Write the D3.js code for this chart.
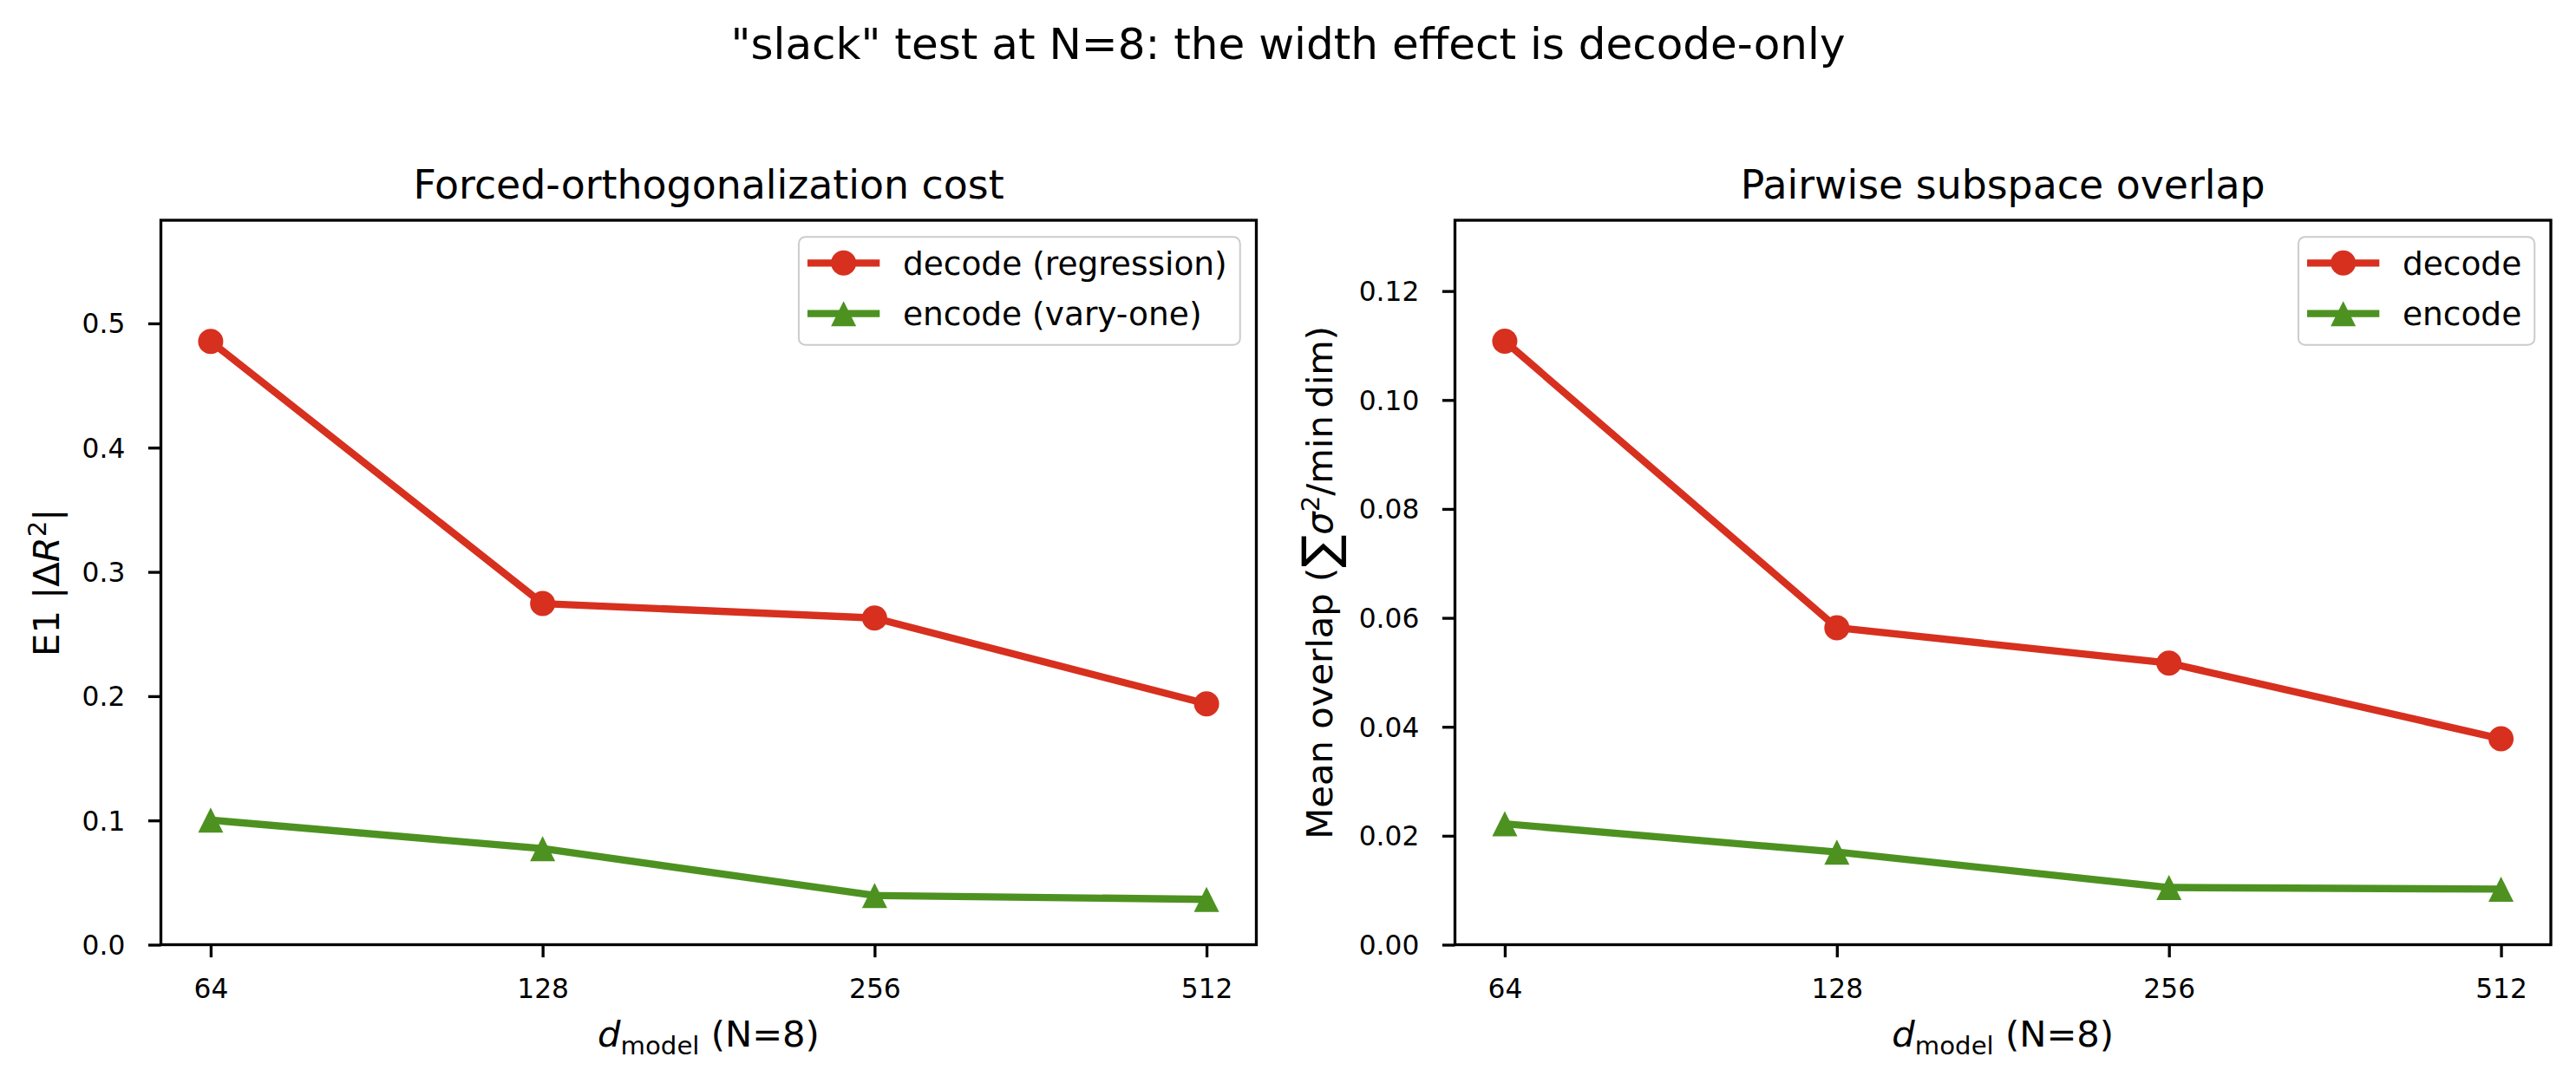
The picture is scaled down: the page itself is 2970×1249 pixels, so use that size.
<!DOCTYPE html>
<html>
<head>
<meta charset="utf-8">
<script src="https://cdn.jsdelivr.net/npm/d3@7"></script>
<style>
  html, body { margin: 0; padding: 0; background: #fff; }
  svg { display: block; }
  text { font-family: "DejaVu Sans", sans-serif; fill: #000; }
</style>
</head>
<body>
<svg id="chart" width="2970" height="1249"></svg>
<script>
// ---------------- data ----------------
const dModel = [64, 128, 256, 512];
const decodeCost = [0.4855, 0.2745, 0.2629, 0.1938];
const encodeCost = [0.1003, 0.0773, 0.0396, 0.0365];
const decodeOverlap = [0.1108, 0.0582, 0.0517, 0.0378];
const encodeOverlap = [0.0222, 0.0170, 0.0105, 0.0102];
const xTickValues = [64, 128, 256, 512];
const xTickLabels = ["64", "128", "256", "512"];
const yTicksCost = [0, 0.1, 0.2, 0.3, 0.4, 0.5];
const yTickLabelsCost = ["0.0", "0.1", "0.2", "0.3", "0.4", "0.5"];
const yTicksOverlap = [0, 0.02, 0.04, 0.06, 0.08, 0.10, 0.12];
const yTickLabelsOverlap = ["0.00", "0.02", "0.04", "0.06", "0.08", "0.10", "0.12"];
const yMaxCost = 0.583;
const yMaxOverlap = 0.133;
const legendCost = ["decode (regression)", "encode (vary-one)"];
const legendOverlap = ["decode", "encode"];
const titles = ["Forced-orthogonalization cost", "Pairwise subspace overlap"];
const suptitle = '"slack" test at N=8: the width effect is decode-only';

// ---------------- style ----------------
const RED = "#d7301f";
const GREEN = "#4d9221";
const LW = 8.33;
const MR = 14.5;
const TICK_FS = 31.25, LABEL_FS = 41.7, TITLE_FS = 45.8, SUP_FS = 50, LEG_FS = 37.5;

const svg = d3.select("#chart");
svg.append("rect").attr("width", 2970).attr("height", 1249).attr("fill", "#fff");

svg.append("text")
  .attr("x", 1485).attr("y", 68)
  .attr("text-anchor", "middle")
  .attr("font-size", SUP_FS)
  .text(suptitle);

const axTop = 254, axBottom = 1089.5;

function panel(cfg) {
  const g = svg.append("g");
  const x = d3.scaleLog().base(2)
    .domain([64 * Math.pow(2, -0.15), 512 * Math.pow(2, 0.15)])
    .range([cfg.x0, cfg.x1]);
  const y = d3.scaleLinear().domain([0, cfg.yMax]).range([axBottom, axTop]);

  // x axis
  const xAxis = d3.axisBottom(x)
    .tickValues(xTickValues)
    .tickFormat((d, i) => xTickLabels[i])
    .tickSizeInner(14.6).tickSizeOuter(0).tickPadding(25.2);
  const gx = g.append("g").attr("transform", `translate(0,${axBottom})`).call(xAxis);
  gx.select(".domain").remove();
  gx.selectAll(".tick line").attr("stroke", "#000").attr("stroke-width", 3.33);
  gx.selectAll(".tick text").attr("font-size", TICK_FS)
    .attr("font-family", "DejaVu Sans").attr("fill", "#000");

  // y axis
  const yAxis = d3.axisLeft(y)
    .tickValues(cfg.yTicks)
    .tickFormat((d, i) => cfg.yTickLabels[i])
    .tickSizeInner(14.6).tickSizeOuter(0).tickPadding(26.6);
  const gy = g.append("g").attr("transform", `translate(${cfg.x0},0)`).call(yAxis);
  gy.select(".domain").remove();
  gy.selectAll(".tick line").attr("stroke", "#000").attr("stroke-width", 3.33);
  gy.selectAll(".tick text").attr("font-size", TICK_FS)
    .attr("font-family", "DejaVu Sans").attr("fill", "#000").attr("dy", "0.35em");

  // series
  const series = [
    { vals: cfg.decode, color: RED, marker: "circle" },
    { vals: cfg.encode, color: GREEN, marker: "triangle" }
  ];
  const line = d3.line().x((d) => x(d[0])).y((d) => y(d[1]));
  series.forEach(s => {
    const pts = dModel.map((d, i) => [d, s.vals[i]]);
    g.append("path").datum(pts)
      .attr("d", line)
      .attr("fill", "none")
      .attr("stroke", s.color)
      .attr("stroke-width", LW)
      .attr("stroke-linecap", "square")
      .attr("stroke-linejoin", "round");
    drawMarkers(g, pts.map(p => [x(p[0]), y(p[1])]), s.marker, s.color);
  });

  // spines
  g.append("rect")
    .attr("x", cfg.x0).attr("y", axTop)
    .attr("width", cfg.x1 - cfg.x0).attr("height", axBottom - axTop)
    .attr("fill", "none").attr("stroke", "#000").attr("stroke-width", 3.33);

  // title
  g.append("text")
    .attr("x", (cfg.x0 + cfg.x1) / 2).attr("y", 229)
    .attr("text-anchor", "middle").attr("font-size", TITLE_FS)
    .text(cfg.title);

  // x label: d_model (N=8)
  const xl = g.append("text")
    .attr("x", (cfg.x0 + cfg.x1) / 2).attr("y", 1207)
    .attr("text-anchor", "middle").attr("font-size", LABEL_FS);
  xl.append("tspan").attr("font-style", "italic").text("d");
  xl.append("tspan").attr("font-size", LABEL_FS * 0.7).attr("dy", 9).text("model");
  xl.append("tspan").attr("dy", -9).text("\u00A0(N=8)");

  // y label
  cfg.ylabel(g);

  // legend
  drawLegend(g, cfg.x1, cfg.legend);
}

function drawMarkers(g, pts, type, color) {
  pts.forEach(p => {
    if (type === "circle") {
      g.append("circle").attr("cx", p[0]).attr("cy", p[1]).attr("r", MR).attr("fill", color);
    } else {
      const h = MR;
      g.append("path")
        .attr("d", `M${p[0]},${p[1] - h}L${p[0] - h},${p[1] + h}L${p[0] + h},${p[1] + h}Z`)
        .attr("fill", color);
    }
  });
}

function drawLegend(g, axRight, labels) {
  const pad = 15, hl = 75, htp = 30;
  const lg = g.append("g");
  const texts = labels.map(l => lg.append("text").attr("font-size", LEG_FS).text(l));
  const maxW = d3.max(texts, t => t.node().getComputedTextLength());
  const w = pad + hl + htp + maxW + pad;
  const h = 124.4;
  const x0 = axRight - 18.75 - w, y0 = axTop + 19.3;
  lg.insert("rect", "text")
    .attr("x", x0).attr("y", y0).attr("width", w).attr("height", h)
    .attr("rx", 7.5).attr("ry", 7.5)
    .attr("fill", "#fff").attr("fill-opacity", 0.8)
    .attr("stroke", "#cccccc").attr("stroke-width", 2);
  const colors = [RED, GREEN], marks = ["circle", "triangle"];
  labels.forEach((l, i) => {
    const cy = y0 + 30 + i * 58.4;
    lg.append("line")
      .attr("x1", x0 + pad - 0.8).attr("x2", x0 + pad + hl - 0.8)
      .attr("y1", cy).attr("y2", cy)
      .attr("stroke", colors[i]).attr("stroke-width", LW).attr("stroke-linecap", "square");
    drawMarkers(lg, [[x0 + pad + hl / 2 - 0.8, cy]], marks[i], colors[i]);
    texts[i].attr("x", x0 + pad + hl + htp).attr("y", cy).attr("dy", "0.357em").raise();
  });
}

panel({
  x0: 185.5, x1: 1448.5, yMax: yMaxCost,
  yTicks: yTicksCost, yTickLabels: yTickLabelsCost,
  decode: decodeCost, encode: encodeCost,
  title: titles[0], legend: legendCost,
  ylabel: (g) => {
    const t = g.append("text")
      .attr("transform", `translate(68,${(axTop + axBottom) / 2}) rotate(-90)`)
      .attr("text-anchor", "middle").attr("font-size", LABEL_FS);
    t.append("tspan").text("E1 |\u0394");
    t.append("tspan").attr("font-style", "italic").text("R");
    t.append("tspan").attr("font-size", LABEL_FS * 0.7).attr("dy", -15).text("2");
    t.append("tspan").attr("dy", 15).text("|");
  }
});

panel({
  x0: 1677.5, x1: 2941, yMax: yMaxOverlap,
  yTicks: yTicksOverlap, yTickLabels: yTickLabelsOverlap,
  decode: decodeOverlap, encode: encodeOverlap,
  title: titles[1], legend: legendOverlap,
  ylabel: (g) => {
    const t = g.append("text")
      .attr("transform", `translate(1536,${(axTop + axBottom) / 2}) rotate(-90)`)
      .attr("text-anchor", "middle").attr("font-size", LABEL_FS);
    t.append("tspan").text("Mean overlap (");
    t.append("tspan").attr("font-size", LABEL_FS * 1.35).attr("dy", 5).text("\u2211");
    t.append("tspan").attr("font-style", "italic").attr("dy", -5).text("\u03C3");
    t.append("tspan").attr("font-size", LABEL_FS * 0.7).attr("dy", -15).text("2");
    t.append("tspan").attr("dy", 15).text("/min\u2009dim)");
  }
});
</script>
</body>
</html>
